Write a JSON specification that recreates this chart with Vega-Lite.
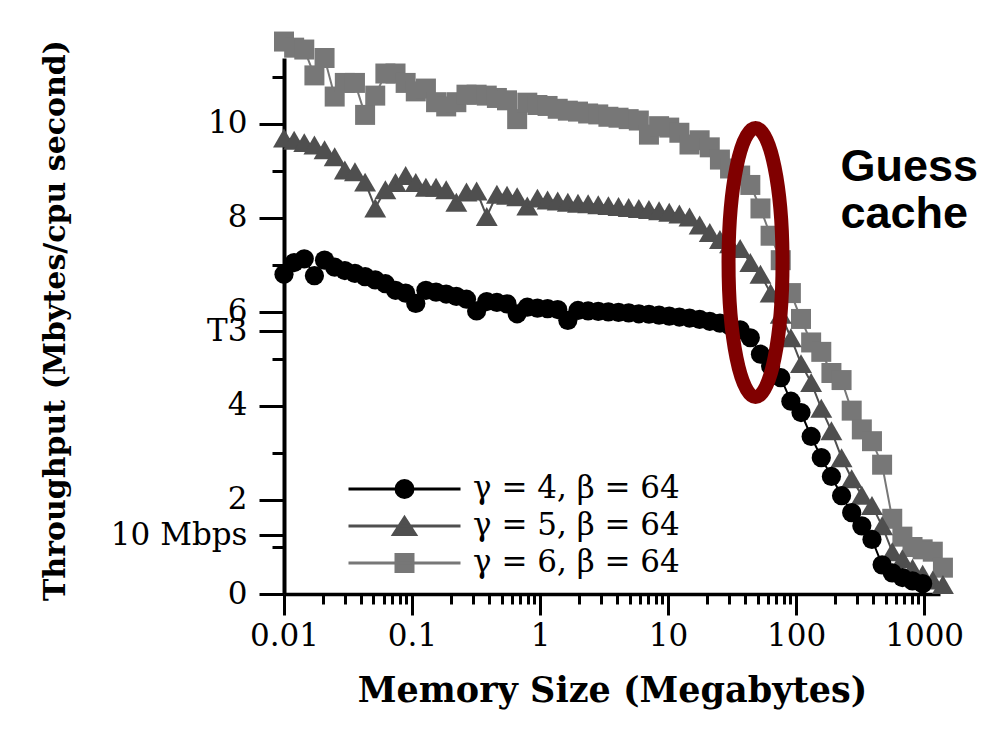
{
  "$schema": "https://vega.github.io/schema/vega-lite/v6.json",
  "width": 656,
  "height": 536,
  "autosize": {"type": "none"},
  "padding": {"left": 284, "top": 58, "right": 44, "bottom": 145},
  "background": "#ffffff",
  "config": {
    "view": {"stroke": null},
    "axis": {"grid": false, "labelFont": "DejaVu Serif", "labelFontSize": 31, "labelColor": "#000000", "titleFont": "DejaVu Serif", "titleColor": "#000000", "domainColor": "#000000", "tickColor": "#000000", "labelFlush": false, "labelOverlap": false}
  },
  "datasets": {
    "g6": [
      {"mem":0.01,"tput":11.75},{"mem":0.012,"tput":11.62},{"mem":0.0144,"tput":11.58},{"mem":0.01728,"tput":11.03},{"mem":0.020736,"tput":11.4},{"mem":0.024883,"tput":10.58},{"mem":0.02986,"tput":10.87},{"mem":0.035832,"tput":10.87},{"mem":0.042998,"tput":10.19},{"mem":0.051598,"tput":10.6},
      {"mem":0.061917,"tput":11.07},{"mem":0.074301,"tput":11.07},{"mem":0.089161,"tput":10.87},{"mem":0.10699,"tput":10.69},{"mem":0.12839,"tput":10.75},{"mem":0.15407,"tput":10.46},{"mem":0.18488,"tput":10.37},{"mem":0.22186,"tput":10.46},{"mem":0.26623,"tput":10.62},{"mem":0.31948,"tput":10.62},
      {"mem":0.38338,"tput":10.6},{"mem":0.46005,"tput":10.55},{"mem":0.55206,"tput":10.5},{"mem":0.66247,"tput":10.1},{"mem":0.79497,"tput":10.45},{"mem":0.95396,"tput":10.4},{"mem":1.1448,"tput":10.38},{"mem":1.3737,"tput":10.32},{"mem":1.6484,"tput":10.28},{"mem":1.9781,"tput":10.26},
      {"mem":2.3738,"tput":10.22},{"mem":2.8485,"tput":10.2},{"mem":3.4182,"tput":10.15},{"mem":4.1019,"tput":10.13},{"mem":4.9222,"tput":10.1},{"mem":5.9067,"tput":10.07},{"mem":7.088,"tput":9.77},{"mem":8.5056,"tput":9.95},{"mem":10.207,"tput":9.92},{"mem":12.248,"tput":9.81},
      {"mem":14.698,"tput":9.56},{"mem":17.637,"tput":9.65},{"mem":21.165,"tput":9.5},{"mem":25.398,"tput":9.24},{"mem":30.477,"tput":9.05},{"mem":36.573,"tput":8.9},{"mem":43.887,"tput":8.7},{"mem":52.665,"tput":8.2},{"mem":63.198,"tput":7.62},{"mem":75.837,"tput":7.1},
      {"mem":91.004,"tput":6.4},{"mem":109.2,"tput":5.85},{"mem":131.04,"tput":5.35},{"mem":157.25,"tput":5.15},{"mem":188.7,"tput":4.7},{"mem":226.44,"tput":4.55},{"mem":271.73,"tput":3.9},{"mem":326.08,"tput":3.5},{"mem":391.29,"tput":3.25},{"mem":469.55,"tput":2.75},
      {"mem":563.46,"tput":1.6},{"mem":676.15,"tput":1.22},{"mem":811.38,"tput":1.0},{"mem":973.66,"tput":0.95},{"mem":1168.4,"tput":0.9},{"mem":1402.1,"tput":0.56}
    ],
    "g5": [
      {"mem":0.01,"tput":9.7},{"mem":0.012,"tput":9.65},{"mem":0.0144,"tput":9.6},{"mem":0.01728,"tput":9.55},{"mem":0.020736,"tput":9.45},{"mem":0.024883,"tput":9.3},{"mem":0.02986,"tput":9.02},{"mem":0.035832,"tput":8.98},{"mem":0.042998,"tput":8.76},{"mem":0.051598,"tput":8.21},
      {"mem":0.061917,"tput":8.6},{"mem":0.074301,"tput":8.75},{"mem":0.089161,"tput":8.9},{"mem":0.10699,"tput":8.75},{"mem":0.12839,"tput":8.65},{"mem":0.15407,"tput":8.65},{"mem":0.18488,"tput":8.6},{"mem":0.22186,"tput":8.33},{"mem":0.26623,"tput":8.55},{"mem":0.31948,"tput":8.57},
      {"mem":0.38338,"tput":8.03},{"mem":0.46005,"tput":8.5},{"mem":0.55206,"tput":8.48},{"mem":0.66247,"tput":8.45},{"mem":0.79497,"tput":8.25},{"mem":0.95396,"tput":8.42},{"mem":1.1448,"tput":8.38},{"mem":1.3737,"tput":8.36},{"mem":1.6484,"tput":8.33},{"mem":1.9781,"tput":8.31},
      {"mem":2.3738,"tput":8.3},{"mem":2.8485,"tput":8.28},{"mem":3.4182,"tput":8.26},{"mem":4.1019,"tput":8.24},{"mem":4.9222,"tput":8.22},{"mem":5.9067,"tput":8.2},{"mem":7.088,"tput":8.18},{"mem":8.5056,"tput":8.15},{"mem":10.207,"tput":8.12},{"mem":12.248,"tput":8.08},
      {"mem":14.698,"tput":8.02},{"mem":17.637,"tput":7.85},{"mem":21.165,"tput":7.69},{"mem":25.398,"tput":7.54},{"mem":30.477,"tput":7.45},{"mem":36.573,"tput":7.35},{"mem":43.887,"tput":7.05},{"mem":52.665,"tput":6.8},{"mem":63.198,"tput":6.4},{"mem":75.837,"tput":5.95},
      {"mem":91.004,"tput":5.45},{"mem":109.2,"tput":4.9},{"mem":131.04,"tput":4.5},{"mem":157.25,"tput":3.95},{"mem":188.7,"tput":3.47},{"mem":226.44,"tput":2.9},{"mem":271.73,"tput":2.45},{"mem":326.08,"tput":2.1},{"mem":391.29,"tput":1.88},{"mem":469.55,"tput":1.45},
      {"mem":563.46,"tput":0.9},{"mem":676.15,"tput":0.75},{"mem":811.38,"tput":0.55},{"mem":973.66,"tput":0.42},{"mem":1168.4,"tput":0.3},{"mem":1402.1,"tput":0.2}
    ],
    "g4": [
      {"mem":0.01,"tput":6.8},{"mem":0.012,"tput":7.05},{"mem":0.0144,"tput":7.13},{"mem":0.01728,"tput":6.77},{"mem":0.020736,"tput":7.1},{"mem":0.024883,"tput":6.95},{"mem":0.02986,"tput":6.88},{"mem":0.035832,"tput":6.82},{"mem":0.042998,"tput":6.75},{"mem":0.051598,"tput":6.68},
      {"mem":0.061917,"tput":6.6},{"mem":0.074301,"tput":6.46},{"mem":0.089161,"tput":6.4},{"mem":0.10699,"tput":6.18},{"mem":0.12839,"tput":6.46},{"mem":0.15407,"tput":6.42},{"mem":0.18488,"tput":6.38},{"mem":0.22186,"tput":6.33},{"mem":0.26623,"tput":6.27},{"mem":0.31948,"tput":6.02},
      {"mem":0.38338,"tput":6.22},{"mem":0.46005,"tput":6.2},{"mem":0.55206,"tput":6.17},{"mem":0.66247,"tput":5.96},{"mem":0.79497,"tput":6.1},{"mem":0.95396,"tput":6.08},{"mem":1.1448,"tput":6.07},{"mem":1.3737,"tput":6.05},{"mem":1.6484,"tput":5.82},{"mem":1.9781,"tput":6.03},
      {"mem":2.3738,"tput":6.02},{"mem":2.8485,"tput":6.01},{"mem":3.4182,"tput":6.0},{"mem":4.1019,"tput":5.99},{"mem":4.9222,"tput":5.98},{"mem":5.9067,"tput":5.96},{"mem":7.088,"tput":5.95},{"mem":8.5056,"tput":5.93},{"mem":10.207,"tput":5.91},{"mem":12.248,"tput":5.89},
      {"mem":14.698,"tput":5.87},{"mem":17.637,"tput":5.84},{"mem":21.165,"tput":5.8},{"mem":25.398,"tput":5.76},{"mem":30.477,"tput":5.7},{"mem":36.573,"tput":5.62},{"mem":43.887,"tput":5.45},{"mem":52.665,"tput":5.1},{"mem":63.198,"tput":4.85},{"mem":75.837,"tput":4.6},
      {"mem":91.004,"tput":4.1},{"mem":109.2,"tput":3.86},{"mem":131.04,"tput":3.35},{"mem":157.25,"tput":2.9},{"mem":188.7,"tput":2.5},{"mem":226.44,"tput":2.09},{"mem":271.73,"tput":1.73},{"mem":326.08,"tput":1.45},{"mem":391.29,"tput":1.16},{"mem":469.55,"tput":0.62},
      {"mem":563.46,"tput":0.45},{"mem":676.15,"tput":0.35},{"mem":811.38,"tput":0.28},{"mem":973.66,"tput":0.22}
    ]
  },
  "layer": [
    {
      "data": {"name": "g6"},
      "mark": {"type": "line", "color": "#777777", "strokeWidth": 2},
      "encoding": {
        "x": {"field": "mem", "type": "quantitative", "scale": {"type": "log", "domain": [0.01, 1330], "nice": false},
          "axis": {"orient": "bottom", "values": [0.01, 0.1, 1, 10, 100, 1000], "labelExpr": "toString(datum.value)", "tickSize": 21, "tickWidth": 3, "domainWidth": 3.5, "labelPadding": 6, "title": "Memory Size (Megabytes)", "titleFontSize": 35, "titleFontWeight": "bold", "titleBaseline": "alphabetic", "titleY": 107}},
        "y": {"field": "tput", "type": "quantitative", "scale": {"domain": [0, 11.4], "nice": false, "zero": false},
          "axis": {"orient": "left", "values": [0, 1.25, 2, 4, 5.59, 6, 8, 10], "labelExpr": "datum.value == 1.25 ? '10 Mbps' : datum.value == 5.59 ? 'T3' : toString(datum.value)", "tickSize": 25, "tickWidth": 3, "domainWidth": 4, "labelPadding": 12, "title": "Throughput (Mbytes/cpu second)", "titleFontSize": 30, "titleFontWeight": "bold", "titleAngle": -90, "titleAlign": "center", "titleBaseline": "middle", "titleX": -229, "titleY": 262}}
      }
    },
    {
      "data": {"name": "g6"},
      "mark": {"type": "point", "shape": "square", "filled": true, "color": "#777777", "size": 400, "opacity": 1},
      "encoding": {
        "x": {"field": "mem", "type": "quantitative", "scale": {"type": "log", "domain": [0.01, 1330], "nice": false},
          "axis": {"orient": "bottom", "values": [0.02,0.03,0.04,0.05,0.06,0.07,0.08,0.09,0.2,0.3,0.4,0.5,0.6,0.7,0.8,0.9,2,3,4,5,6,7,8,9,20,30,40,50,60,70,80,90,200,300,400,500,600,700,800,900], "tickSize": 10, "tickWidth": 3, "domain": false, "labels": false, "title": null}},
        "y": {"field": "tput", "type": "quantitative", "scale": {"domain": [0, 11.4], "nice": false, "zero": false},
          "axis": {"orient": "left", "values": [1, 3, 5, 7, 9, 11], "tickSize": 12, "tickWidth": 3, "domain": false, "labels": false, "title": null}}
      }
    },
    {
      "data": {"name": "g5"},
      "mark": {"type": "line", "color": "#4f4f4f", "strokeWidth": 2},
      "encoding": {
        "x": {"field": "mem", "type": "quantitative", "scale": {"type": "log", "domain": [0.01, 1330], "nice": false}, "axis": null},
        "y": {"field": "tput", "type": "quantitative", "scale": {"domain": [0, 11.4], "nice": false, "zero": false}, "axis": null}
      }
    },
    {
      "data": {"name": "g5"},
      "mark": {"type": "point", "shape": "triangle-up", "filled": true, "color": "#4f4f4f", "size": 480, "opacity": 1},
      "encoding": {
        "x": {"field": "mem", "type": "quantitative", "scale": {"type": "log", "domain": [0.01, 1330], "nice": false}, "axis": null},
        "y": {"field": "tput", "type": "quantitative", "scale": {"domain": [0, 11.4], "nice": false, "zero": false}, "axis": null}
      }
    },
    {
      "data": {"name": "g4"},
      "mark": {"type": "line", "color": "#000000", "strokeWidth": 2},
      "encoding": {
        "x": {"field": "mem", "type": "quantitative", "scale": {"type": "log", "domain": [0.01, 1330], "nice": false}, "axis": null},
        "y": {"field": "tput", "type": "quantitative", "scale": {"domain": [0, 11.4], "nice": false, "zero": false}, "axis": null}
      }
    },
    {
      "data": {"name": "g4"},
      "mark": {"type": "point", "shape": "circle", "filled": true, "color": "#000000", "size": 370, "opacity": 1},
      "encoding": {
        "x": {"field": "mem", "type": "quantitative", "scale": {"type": "log", "domain": [0.01, 1330], "nice": false}, "axis": null},
        "y": {"field": "tput", "type": "quantitative", "scale": {"domain": [0, 11.4], "nice": false, "zero": false}, "axis": null}
      }
    },
    {
      "data": {"values": []},
      "mark": {"type": "point", "filled": true, "opacity": 1, "strokeWidth": 3},
      "encoding": {
        "shape": {"field": "series", "type": "nominal",
          "scale": {"domain": ["4", "5", "6"], "range": [
            "M-2.732,0L2.732,0M-0.4146,0A0.4146,0.4146,0,1,1,0.4146,0A0.4146,0.4146,0,1,1,-0.4146,0Z",
            "M-2.732,0L2.732,0M0,-0.4146L0.5366,0.4146L-0.5366,0.4146Z",
            "M-2.732,0L2.732,0M-0.4146,-0.4146L0.4146,-0.4146L0.4146,0.4146L-0.4146,0.4146Z"]},
          "legend": {"orient": "none", "legendX": 98.5, "legendY": 409, "title": null, "padding": 0, "symbolSize": 1681, "symbolStrokeWidth": 3, "symbolOpacity": 1, "labelOffset": 46.5, "rowPadding": -3, "labelFont": "DejaVu Serif", "labelFontSize": 31, "labelColor": "#000000", "labelLimit": 0,
            "labelExpr": "'γ = ' + datum.label + ', β = 64'"}
        },
        "fill": {"field": "series", "type": "nominal",
          "scale": {"domain": ["4", "5", "6"], "range": ["#000000", "#4f4f4f", "#777777"]},
          "legend": {"orient": "none", "legendX": 98.5, "legendY": 409, "title": null, "padding": 0, "symbolSize": 1681, "symbolStrokeWidth": 3, "symbolOpacity": 1, "labelOffset": 46.5, "rowPadding": -3, "labelFont": "DejaVu Serif", "labelFontSize": 31, "labelColor": "#000000", "labelLimit": 0,
            "labelExpr": "'γ = ' + datum.label + ', β = 64'"}
        },
        "stroke": {"field": "series", "type": "nominal",
          "scale": {"domain": ["4", "5", "6"], "range": ["#000000", "#4f4f4f", "#777777"]},
          "legend": {"orient": "none", "legendX": 98.5, "legendY": 409, "title": null, "padding": 0, "symbolSize": 1681, "symbolStrokeWidth": 3, "symbolOpacity": 1, "labelOffset": 46.5, "rowPadding": -3, "labelFont": "DejaVu Serif", "labelFontSize": 31, "labelColor": "#000000", "labelLimit": 0,
            "labelExpr": "'γ = ' + datum.label + ', β = 64'"}
        }
      }
    },
    {
      "data": {"values": [{}]},
      "mark": {"type": "point", "shape": "M0,-1A0.2007,1,0,1,1,0,1A0.2007,1,0,1,1,0,-1Z", "size": 72361, "filled": false, "stroke": "#800000", "strokeWidth": 14, "opacity": 1},
      "encoding": {
        "x": {"datum": 48.2, "type": "quantitative", "scale": {"type": "log", "domain": [0.01, 1330], "nice": false}, "axis": null},
        "y": {"datum": 7.05, "type": "quantitative", "scale": {"domain": [0, 11.4], "nice": false, "zero": false}, "axis": null}
      }
    },
    {
      "data": {"values": [{}]},
      "mark": {"type": "text", "text": ["Guess", "cache"], "font": "Liberation Sans", "fontWeight": "bold", "fontSize": 45, "align": "left", "baseline": "top", "lineHeight": 47, "color": "#000000"},
      "encoding": {
        "x": {"datum": 222, "type": "quantitative", "scale": {"type": "log", "domain": [0.01, 1330], "nice": false}, "axis": null},
        "y": {"datum": 9.55, "type": "quantitative", "scale": {"domain": [0, 11.4], "nice": false, "zero": false}, "axis": null}
      }
    }
  ],
  "resolve": {"axis": {"x": "independent", "y": "independent"}}
}
